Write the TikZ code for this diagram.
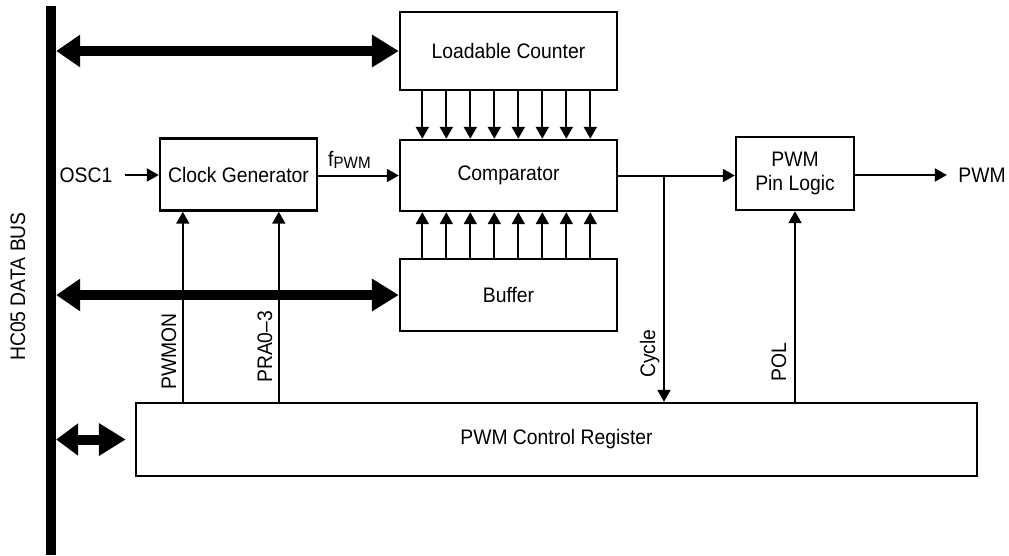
\documentclass[tikz,border=0pt]{standalone}
\usepackage{fontspec}
\setmainfont{Liberation Sans}[FakeStretch=0.92]
\usetikzlibrary{arrows.meta}
\begin{document}
\begin{tikzpicture}[x=1pt,y=-1pt,
  every node/.style={font=\fontsize{21pt}{24pt}\selectfont},
  box/.style={draw, line width=2.4pt, inner sep=0pt, anchor=center},
  arr/.style={line width=2pt, -{Triangle[length=12pt,width=13pt]}},
  wire/.style={line width=2pt},
  bigarr/.style={line width=10pt, {Triangle[length=24pt,width=31pt]}-{Triangle[length=27pt,width=31pt]}},
  vlabel/.style={rotate=90, anchor=base west, inner sep=0pt}]
\useasboundingbox (0,0) rectangle (1009,555);

% bus
\node[fill=black, minimum width=10pt, minimum height=549pt, inner sep=0pt] (bus) at (51,280.5) {};
\node[rotate=90] (buslabel) at (18,286.5) {HC05 DATA BUS};

% blocks
\node[box, minimum width=217pt, minimum height=78pt] (counter) at (508.5,51) {Loadable Counter};
\node[box, minimum width=217pt, minimum height=71pt] (comp) at (508.5,175.5) {Comparator};
\node[box, minimum width=217pt, minimum height=72pt] (buffer) at (508.5,295) {Buffer};
\node[box, minimum width=157pt, minimum height=72pt] (clock) at (238.5,174.5) {Clock Generator};
\node[box, minimum width=118pt, minimum height=73pt, align=center] (pin) at (795,173.5) {PWM\\Pin Logic};
\node[box, minimum width=841pt, minimum height=73pt] (reg) at (556.5,439.5) {PWM Control Register};

% texts
\node (osc) at (86,175) {OSC1};
\node (pwmout) at (982,175) {PWM};
\node[inner sep=0pt, anchor=base west] (fpwm) at (328,166) {f\raisebox{-2.5pt}{\fontsize{16.5pt}{17pt}\selectfont PWM}};

% bus arrows
\draw[bigarr] (bus.east |- counter.west) -- (counter.west);
\draw[bigarr] (bus.east |- buffer.west) -- (buffer.west);
\draw[line width=10pt, {Triangle[length=22pt,width=31pt]}-{Triangle[length=27pt,width=31pt]}] (bus.east |- reg.west) -- ([xshift=-9pt]reg.west);

% counter -> comparator, buffer -> comparator
\foreach \i in {0,...,7}{
  \draw[arr] ([xshift={23.5pt+24pt*\i}]counter.south west) -- ([xshift={23.5pt+24pt*\i}]comp.north west);
  \draw[arr] ([xshift={23.5pt+24pt*\i}]buffer.north west) -- ([xshift={23.5pt+24pt*\i}]comp.south west);
}

% clock path
\draw[arr] ([xshift=9pt]osc.east) -- (clock.west |- osc.east);
\draw[arr] (clock.east |- comp.west) -- (comp.west);

% comparator -> pin logic, cycle
\coordinate (j) at (664,175.5);
\draw[arr] (comp.east) -- (pin.west |- comp.east);
\draw[arr] (j) -- (j |- reg.north);
\draw[arr] (pin.east |- pwmout.west) -- ([xshift=-8pt]pwmout.west);

% control lines
\draw[arr] ([xshift=48pt]reg.north west) -- ([xshift=24pt]clock.south west);
\draw[arr] ([xshift=144pt]reg.north west) -- ([xshift=120pt]clock.south west);
\draw[arr] (reg.north -| pin.south) -- (pin.south);

% vertical labels
\node[vlabel] (lpwmon) at (176,390) {PWMON};
\node[vlabel] (lpra) at (272,383) {PRA0\textendash 3};
\node[vlabel] (lcycle) at (655,378) {Cycle};
\node[vlabel] (lpol) at (786,382) {POL};
\end{tikzpicture}
\end{document}
